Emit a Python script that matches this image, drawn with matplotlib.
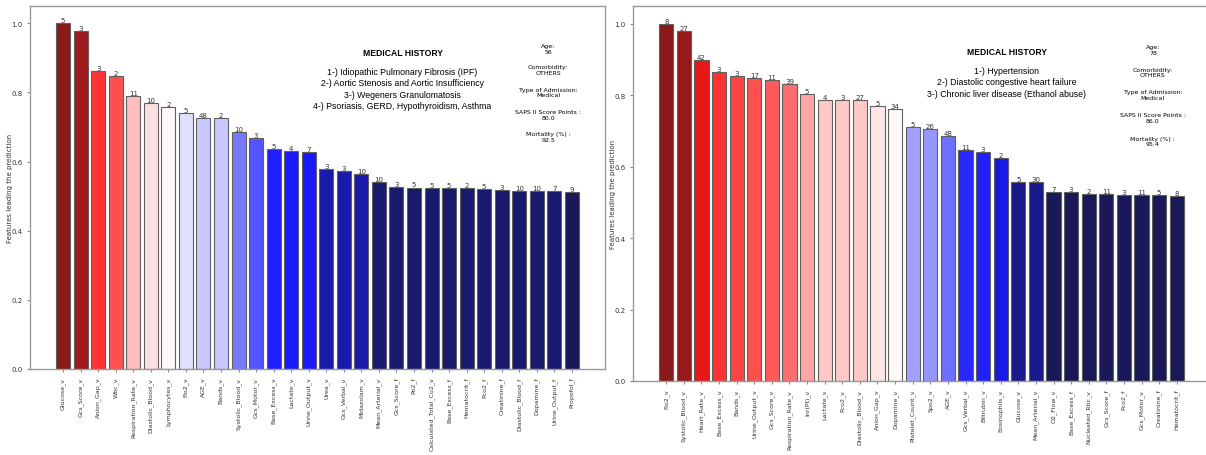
import numpy as np
import matplotlib
matplotlib.use("Agg")
import matplotlib.pyplot as plt

# left patient
left_features = ["Glucose_v", "Gcs_Score_v", "Anion_Gap_v", "Wbc_v", "Respiration_Rate_v",
                 "Diastolic_Blood_v", "Lymphocytes_v", "Fio2_v", "AGE_v", "Bands_v",
                 "Systolic_Blood_v", "Gcs_Motor_v", "Base_Excess_v", "Lactate_v", "Urine_Output_v",
                 "Urea_v", "Gcs_Verbal_v", "Midazolam_v", "Mean_Arterial_v", "Gcs_Score_f",
                 "Po2_f", "Calculated_Total_Co2_v", "Base_Excess_f", "Hematocrit_f", "Pco2_f",
                 "Creatinine_f", "Diastolic_Blood_f", "Dopamine_f", "Urine_Output_f", "Propofol_f"]
left_scores = [1.0, 0.978, 0.863, 0.848, 0.789, 0.769, 0.758, 0.740, 0.726, 0.725,
               0.685, 0.667, 0.637, 0.631, 0.629, 0.579, 0.573, 0.565, 0.541, 0.527,
               0.525, 0.524, 0.524, 0.523, 0.521, 0.519, 0.516, 0.516, 0.515, 0.512]
left_counts = [5, 3, 3, 2, 11, 10, 2, 5, 48, 2, 10, 3, 5, 4, 7,
               3, 3, 10, 10, 3, 5, 5, 5, 2, 5, 3, 10, 10, 7, 9]
left_history = ["1-) Idiopathic Pulmonary Fibrosis (IPF)",
                "2-) Aortic Stenosis and Aortic Insufficiency",
                "3-) Wegeners Granulomatosis",
                "4-) Psoriasis, GERD, Hypothyroidism, Asthma"]
left_info = ["56", "OTHERS", "Medical", "80.0", "92.5"]

# right patient
right_features = ["Fio2_v", "Systolic_Blood_v", "Heart_Rate_v", "Base_Excess_v", "Bands_v",
                  "Urine_Output_v", "Gcs_Score_v", "Respiration_Rate_v", "Inr(Pt)_v", "Lactate_v",
                  "Pco2_v", "Diastolic_Blood_v", "Anion_Gap_v", "Dopamine_v", "Platelet_Count_v",
                  "Spo2_v", "AGE_v", "Gcs_Verbal_v", "Bilirubin_v", "Eosinophils_v",
                  "Glucose_v", "Mean_Arterial_v", "O2_Flow_v", "Base_Excess_f", "Nucleated_Rbc_v",
                  "Gcs_Score_f", "Pco2_f", "Gcs_Motor_v", "Creatinine_f", "Hematocrit_f"]
right_scores = [1.0, 0.979, 0.899, 0.865, 0.855, 0.848, 0.842, 0.833, 0.803, 0.788,
                0.786, 0.786, 0.769, 0.762, 0.710, 0.705, 0.685, 0.647, 0.641, 0.625,
                0.557, 0.557, 0.530, 0.528, 0.525, 0.525, 0.521, 0.520, 0.520, 0.519]
right_counts = [8, 27, 42, 3, 3, 17, 11, 39, 5, 4, 3, 27, 5, 34, 5,
                26, 48, 11, 3, 2, 5, 30, 7, 3, 2, 11, 3, 11, 5, 8]
right_history = ["1-) Hypertension",
                 "2-) Diastolic congestive heart failure",
                 "3-) Chronic liver disease (Ethanol abuse)"]
right_info = ["78", "OTHERS", "Medical", "86.0", "95.4"]

info_keys = ["Age:", "Comorbidity:", "Type of Admission:", "SAPS II Score Points :", "Mortality (%) :"]

# bar colours
left_colors = ["#8b1a1a", "#9e1a1d", "#ff3333", "#ff5050", "#ffbdbd", "#ffe0e0", "#fff8f8",
               "#e0e0ff", "#c8c8ff", "#c8c8ff", "#7878ff", "#5555ff", "#2020ff", "#1a1aff",
               "#1a1aff", "#1a1aaa", "#1a1aaa", "#1a1aaa", "#19196e", "#19196e", "#19196e",
               "#19196e", "#19196e", "#19196e", "#19196e", "#19196e", "#19196e", "#19196e",
               "#19196e", "#19195a"]
right_colors = ["#8b1a1a", "#961a1c", "#e81818", "#ff3333", "#ff4444", "#ff5050", "#ff5a5a",
                "#ff6e6e", "#ffa5a5", "#ffc8c8", "#ffc8c8", "#ffc8c8", "#ffe6e6", "#fff8f8",
                "#a0a0ff", "#9696ff", "#6e6eff", "#2828ff", "#2020ff", "#1a1ae6", "#19198c",
                "#19198c", "#19195a", "#19195a", "#19195a", "#19195a", "#19195a", "#19195a",
                "#19195a", "#19195a"]

narrow = ["Liberation Sans", "DejaVu Sans"]


def draw_panel(ax, features, scores, counts, colors, history, info, hist_y):
    x = np.arange(len(features))
    bars = ax.bar(x, scores, width=0.8, color=colors, edgecolor="#606060", linewidth=0.8)
    for b, c in zip(bars, counts):
        ax.text(b.get_x() + b.get_width() / 2, b.get_height(), str(c),
                ha="center", va="bottom", fontsize=5, color="#333333")
    ax.set_xticks(x)
    ax.set_xticklabels(features, rotation=90, fontsize=4.5, color="#333333")
    ax.tick_params(axis="y", labelsize=5, labelcolor="#333333", length=2, color="#888888")
    ax.tick_params(axis="x", length=2, color="#888888")
    ax.set_ylabel("Features leading the prediction", fontsize=5, color="#333333")
    ax.yaxis.set_label_coords(-0.03, 0.5)
    for s in ax.spines.values():
        s.set_color("#999999")
        s.set_linewidth(1.0)
    ax.text(0.648, hist_y, "MEDICAL HISTORY", transform=ax.transAxes, ha="center", va="center",
            fontsize=6.2, fontweight="bold", family=narrow)
    ax.text(0.648, hist_y - 0.040, "\n".join(history), transform=ax.transAxes, ha="center",
            va="top", fontsize=6.3, family=narrow, linespacing=1.35)
    ys = [0.884, 0.824, 0.763, 0.702, 0.640]
    for k, v, yy in zip(info_keys, info, ys):
        ax.text(0.901, yy, k + "\n" + v, transform=ax.transAxes, ha="center", va="center",
                fontsize=4.5, linespacing=1.2)


fig = plt.figure(figsize=(12.06, 4.56), dpi=100)
W, H = 1206.0, 456.0
ax1 = fig.add_axes([30 / W, 1 - 370 / H, 575 / W, 363 / H])
ax2 = fig.add_axes([633 / W, 1 - 382 / H, 577 / W, 375 / H])

draw_panel(ax1, left_features, left_scores, left_counts, left_colors, left_history, left_info, 0.873)
draw_panel(ax2, right_features, right_scores, right_counts, right_colors, right_history, right_info, 0.880)

fig.savefig("out.png", dpi=100)
